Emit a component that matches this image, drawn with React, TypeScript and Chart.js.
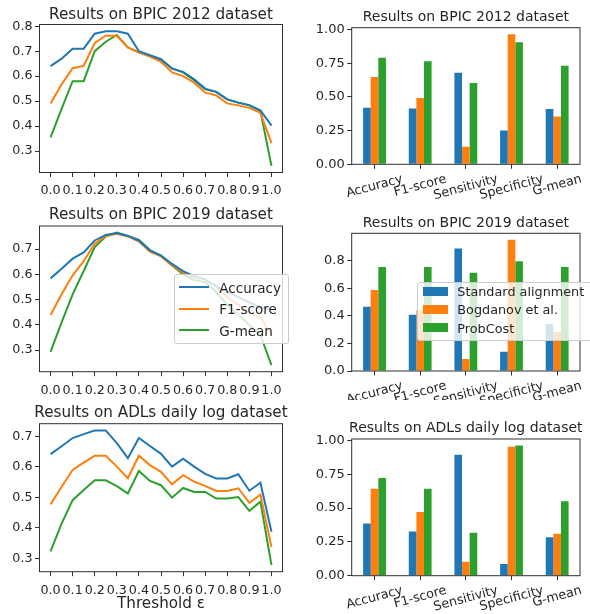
import React, { useEffect, useRef } from "react";
import { Chart, registerables } from "chart.js";

Chart.register(...registerables);

const FONT_FAMILY = '"DejaVu Sans", "Liberation Sans", Arial, sans-serif';
const TEXT_COLOR = "#262626";
const SPINE_COLOR = "#303030";
const TICK_SIZE = 12.7;
const ROT_LABEL_SIZE = 12.7;
const TITLE_SIZE_LEFT = 15.2;
const TITLE_SIZE_RIGHT = 14.0;
const COLORS = ["#1f77b4", "#ff7f0e", "#2ca02c"];

// ---------- line charts (threshold sweep) ----------
const thresholds = [0.0, 0.05, 0.1, 0.15, 0.2, 0.25, 0.3, 0.35, 0.4, 0.45, 0.5, 0.55, 0.6, 0.65, 0.7, 0.75, 0.8, 0.85, 0.9, 0.95, 1.0];
const thresholdTicks = [0.0, 0.1, 0.2, 0.3, 0.4, 0.5, 0.6, 0.7, 0.8, 0.9, 1.0];
const lineSeriesLabels = ["Accuracy", "F1-score", "G-mean"];
const thresholdAxisTitle = "Threshold ε";

const bpic2012Accuracy = [0.64, 0.67, 0.71, 0.71, 0.77, 0.78, 0.78, 0.77, 0.7, 0.684, 0.668, 0.63, 0.617, 0.587, 0.55, 0.537, 0.507, 0.494, 0.484, 0.463, 0.402];
const bpic2012F1 = [0.49, 0.567, 0.632, 0.641, 0.733, 0.762, 0.762, 0.715, 0.695, 0.678, 0.658, 0.615, 0.6, 0.574, 0.534, 0.523, 0.491, 0.483, 0.473, 0.453, 0.332];
const bpic2012GMean = [0.355, 0.469, 0.58, 0.58, 0.7, 0.738, 0.765, 0.715, 0.695, 0.682, 0.666, 0.631, 0.615, 0.584, 0.547, 0.537, 0.507, 0.494, 0.483, 0.46, 0.241];

const bpic2019Accuracy = [0.584, 0.622, 0.662, 0.687, 0.734, 0.756, 0.763, 0.752, 0.734, 0.695, 0.674, 0.641, 0.613, 0.593, 0.58, 0.553, 0.53, 0.51, 0.489, 0.47, 0.46];
const bpic2019F1 = [0.439, 0.521, 0.596, 0.652, 0.721, 0.752, 0.76, 0.75, 0.73, 0.69, 0.671, 0.635, 0.606, 0.587, 0.58, 0.55, 0.51, 0.48, 0.445, 0.43, 0.36];
const bpic2019GMean = [0.293, 0.41, 0.521, 0.613, 0.708, 0.75, 0.765, 0.752, 0.736, 0.695, 0.674, 0.635, 0.6, 0.577, 0.57, 0.53, 0.48, 0.44, 0.4, 0.36, 0.241];

const adlAccuracy = [0.642, 0.668, 0.695, 0.708, 0.72, 0.72, 0.678, 0.629, 0.695, 0.669, 0.643, 0.601, 0.627, 0.601, 0.577, 0.562, 0.562, 0.576, 0.522, 0.548, 0.387];
const adlF1 = [0.477, 0.535, 0.59, 0.614, 0.637, 0.637, 0.601, 0.563, 0.637, 0.606, 0.584, 0.543, 0.573, 0.552, 0.538, 0.521, 0.521, 0.53, 0.482, 0.509, 0.337];
const adlGMean = [0.323, 0.414, 0.491, 0.524, 0.556, 0.556, 0.537, 0.513, 0.587, 0.554, 0.54, 0.499, 0.531, 0.518, 0.518, 0.496, 0.496, 0.501, 0.456, 0.486, 0.278];

const lineYTicks2012 = [0.3, 0.4, 0.5, 0.6, 0.7, 0.8];
const lineYTicks2019 = [0.3, 0.4, 0.5, 0.6, 0.7];
const lineYTicksAdl = [0.3, 0.4, 0.5, 0.6, 0.7];

// ---------- bar charts (method comparison) ----------
const metricCategories = ["Accuracy", "F1-score", "Sensitivity", "Specificity", "G-mean"];
const barSeriesLabels = ["Standard alignment", "Bogdanov et al.", "ProbCost"];

const bpic2012Standard = [0.42, 0.414, 0.68, 0.251, 0.41];
const bpic2012Bogdanov = [0.648, 0.493, 0.13, 0.966, 0.355];
const bpic2012ProbCost = [0.791, 0.766, 0.603, 0.906, 0.731];

const bpic2019Standard = [0.465, 0.407, 0.887, 0.14, 0.34];
const bpic2019Bogdanov = [0.586, 0.44, 0.087, 0.95, 0.282];
const bpic2019ProbCost = [0.754, 0.754, 0.711, 0.795, 0.754];

const adlStandard = [0.386, 0.327, 0.894, 0.086, 0.285];
const adlBogdanov = [0.644, 0.472, 0.103, 0.953, 0.31];
const adlProbCost = [0.722, 0.644, 0.317, 0.963, 0.55];

const barYTicksQuarter = [0, 0.25, 0.5, 0.75, 1.0];
const barYTicks2019 = [0, 0.2, 0.4, 0.6, 0.8];

const title2012 = "Results on BPIC 2012 dataset";
const title2019 = "Results on BPIC 2019 dataset";
const titleAdl = "Results on ADLs daily log dataset";

// ---------- plugins ----------
const framePlugin = {
  id: "frame",
  afterDraw(chart: any) {
    const { ctx, chartArea } = chart;
    ctx.save();
    ctx.strokeStyle = SPINE_COLOR;
    ctx.lineWidth = 1;
    ctx.strokeRect(chartArea.left, chartArea.top, chartArea.right - chartArea.left, chartArea.bottom - chartArea.top);
    ctx.restore();
  },
};

const rotatedLabelPlugin = {
  id: "rotatedLabels",
  afterDraw(chart: any) {
    const scale = chart.scales.x;
    const { ctx, chartArea } = chart;
    const angle = (15 * Math.PI) / 180;
    ctx.save();
    ctx.font = `${ROT_LABEL_SIZE}px ${FONT_FAMILY}`;
    ctx.fillStyle = TEXT_COLOR;
    ctx.textAlign = "center";
    ctx.textBaseline = "middle";
    (chart.data.labels as string[]).forEach((label, i) => {
      const x = scale.getPixelForTick(i);
      const w = ctx.measureText(label).width;
      const h = ROT_LABEL_SIZE * 1.164;
      const boxH = w * Math.sin(angle) + h * Math.cos(angle);
      const y = chartArea.bottom + 7.5 + boxH / 2;
      ctx.save();
      ctx.translate(x, y);
      ctx.rotate(-angle);
      ctx.fillText(label, 0, 0);
      ctx.restore();
    });
    ctx.restore();
  },
};

const tickFont = { family: FONT_FAMILY, size: TICK_SIZE };
const gridStyle = { drawOnChartArea: false, drawTicks: true, tickLength: 4.5, color: SPINE_COLOR, lineWidth: 1 };

function lineConfig(p: {
  acc: number[];
  f1: number[];
  gm: number[];
  yTicks: number[];
  areaTop: number;
  xHeight: number;
  showXTitle: boolean;
}) {
  const all = [...p.acc, ...p.f1, ...p.gm];
  const lo = Math.min(...all);
  const hi = Math.max(...all);
  const m = (hi - lo) * 0.05;
  const series = [p.acc, p.f1, p.gm];
  return {
    type: "line",
    data: {
      datasets: series.map((vals, k) => ({
        label: lineSeriesLabels[k],
        data: thresholds.map((t, i) => ({ x: t, y: vals[i] })),
        borderColor: COLORS[k],
        backgroundColor: COLORS[k],
        borderWidth: 2,
        pointRadius: 0,
        pointHoverRadius: 0,
        tension: 0,
        fill: false,
      })),
    },
    options: {
      responsive: true,
      maintainAspectRatio: false,
      animation: false,
      events: [],
      layout: { padding: { left: 0, top: p.areaTop, right: 12.5, bottom: 0 } },
      plugins: { legend: { display: false }, tooltip: { enabled: false }, title: { display: false } },
      scales: {
        x: {
          type: "linear",
          min: -0.05,
          max: 1.05,
          afterBuildTicks: (s: any) => {
            s.ticks = thresholdTicks.map((v) => ({ value: v }));
          },
          afterFit: (s: any) => {
            s.height = p.xHeight;
          },
          ticks: {
            autoSkip: false,
            maxRotation: 0,
            minRotation: 0,
            padding: 6.5,
            color: TEXT_COLOR,
            font: tickFont,
            callback: (v: any) => Number(v).toFixed(1),
          },
          grid: gridStyle,
          border: { display: false },
          title: {
            display: p.showXTitle,
            text: thresholdAxisTitle,
            color: TEXT_COLOR,
            font: { family: FONT_FAMILY, size: TITLE_SIZE_LEFT },
            padding: { top: 0, bottom: 0.5 },
          },
        },
        y: {
          type: "linear",
          min: lo - m,
          max: hi + m,
          afterBuildTicks: (s: any) => {
            s.ticks = p.yTicks.map((v) => ({ value: v }));
          },
          afterFit: (s: any) => {
            s.width = 39.5;
          },
          ticks: {
            padding: 2.5,
            color: TEXT_COLOR,
            font: tickFont,
            callback: (v: any) => Number(v).toFixed(1),
          },
          grid: gridStyle,
          border: { display: false },
        },
      },
    },
    plugins: [framePlugin],
  };
}

function barConfig(p: {
  std: number[];
  bog: number[];
  prob: number[];
  yTicks: number[];
  decimals: number;
  areaTop: number;
  xHeight: number;
}) {
  const hi = Math.max(...p.std, ...p.bog, ...p.prob) * 1.05;
  const series = [p.std, p.bog, p.prob];
  return {
    type: "bar",
    data: {
      labels: metricCategories,
      datasets: series.map((vals, k) => ({
        label: barSeriesLabels[k],
        data: vals,
        backgroundColor: COLORS[k],
        borderWidth: 0,
        categoryPercentage: 0.5,
        barPercentage: 1.0,
      })),
    },
    options: {
      responsive: true,
      maintainAspectRatio: false,
      animation: false,
      events: [],
      layout: { padding: { left: 0, top: p.areaTop, right: 10, bottom: 0 } },
      plugins: { legend: { display: false }, tooltip: { enabled: false }, title: { display: false } },
      scales: {
        x: {
          type: "category",
          offset: true,
          afterFit: (s: any) => {
            s.height = p.xHeight;
          },
          ticks: { display: false },
          grid: { ...gridStyle, offset: false },
          border: { display: false },
        },
        y: {
          type: "linear",
          min: 0,
          max: hi,
          afterBuildTicks: (s: any) => {
            s.ticks = p.yTicks.map((v) => ({ value: v }));
          },
          afterFit: (s: any) => {
            s.width = 56.7;
          },
          ticks: {
            padding: 2.5,
            color: TEXT_COLOR,
            font: { family: FONT_FAMILY, size: 13 },
            callback: (v: any) => Number(v).toFixed(p.decimals),
          },
          grid: gridStyle,
          border: { display: false },
        },
      },
    },
    plugins: [framePlugin, rotatedLabelPlugin],
  };
}

function ChartPanel(props: { left: number; top: number; width: number; height: number; make: () => any }) {
  const ref = useRef<HTMLCanvasElement | null>(null);
  useEffect(() => {
    if (!ref.current) return;
    const chart = new Chart(ref.current, props.make());
    return () => chart.destroy();
  }, []);
  return (
    <div style={{ position: "absolute", left: props.left, top: props.top, width: props.width, height: props.height }}>
      <canvas ref={ref} />
    </div>
  );
}

function PanelTitle(props: { text: string; centerX: number; capsCenterY: number; size: number }) {
  const lh = props.size * 1.2;
  const capsOffset = (lh - props.size * 1.164) / 2 + props.size * (0.928 - 0.3645);
  return (
    <div
      style={{
        position: "absolute",
        left: props.centerX - 200,
        top: props.capsCenterY - capsOffset,
        width: 400,
        textAlign: "center",
        fontSize: props.size,
        lineHeight: `${lh}px`,
        color: TEXT_COLOR,
        whiteSpace: "nowrap",
      }}
    >
      {props.text}
    </div>
  );
}

function LineLegend() {
  return (
    <div
      style={{
        position: "absolute",
        left: 174.3,
        top: 274.3,
        width: 115,
        height: 70,
        boxSizing: "border-box",
        border: "1px solid #cccccc",
        borderRadius: 3,
        background: "rgba(255,255,255,0.8)",
      }}
    >
      {lineSeriesLabels.map((label, k) => {
        const cy = 12.2 + k * 21.5;
        return (
          <React.Fragment key={label}>
            <div style={{ position: "absolute", left: 4, top: cy - 1, width: 30, height: 2, background: COLORS[k] }} />
            <div
              style={{
                position: "absolute",
                left: 44,
                top: cy - 7.76,
                fontSize: 13.5,
                lineHeight: "16px",
                color: TEXT_COLOR,
                whiteSpace: "nowrap",
              }}
            >
              {label}
            </div>
          </React.Fragment>
        );
      })}
    </div>
  );
}

function BarLegend() {
  return (
    <div
      style={{
        position: "absolute",
        left: 416.7,
        top: 281.7,
        width: 200,
        height: 59,
        boxSizing: "border-box",
        border: "1px solid #cccccc",
        borderRadius: 3,
        background: "rgba(255,255,255,0.8)",
      }}
    >
      {barSeriesLabels.map((label, k) => {
        const cy = 8.6 + k * 18.3;
        return (
          <React.Fragment key={label}>
            <div style={{ position: "absolute", left: 5, top: cy - 4.5, width: 25.6, height: 9, background: COLORS[k] }} />
            <div
              style={{
                position: "absolute",
                left: 39.6,
                top: cy - 7.26,
                fontSize: 12.8,
                lineHeight: "15px",
                color: TEXT_COLOR,
                whiteSpace: "nowrap",
              }}
            >
              {label}
            </div>
          </React.Fragment>
        );
      })}
    </div>
  );
}

export default function App() {
  const leftCenter = 161;
  const rightCenter = 465.85;
  return (
    <div
      style={{
        position: "absolute",
        left: 0,
        top: 0,
        width: 590,
        height: 614,
        overflow: "hidden",
        background: "#ffffff",
        fontFamily: FONT_FAMILY,
      }}
    >
      <ChartPanel
        left={0}
        top={0}
        width={295}
        height={200}
        make={() => lineConfig({ acc: bpic2012Accuracy, f1: bpic2012F1, gm: bpic2012GMean, yTicks: lineYTicks2012, areaTop: 24.5, xHeight: 27.5, showXTitle: false })}
      />
      <ChartPanel
        left={0}
        top={200}
        width={295}
        height={200}
        make={() => lineConfig({ acc: bpic2019Accuracy, f1: bpic2019F1, gm: bpic2019GMean, yTicks: lineYTicks2019, areaTop: 26, xHeight: 28.3, showXTitle: false })}
      />
      <ChartPanel
        left={0}
        top={400}
        width={295}
        height={214}
        make={() => lineConfig({ acc: adlAccuracy, f1: adlF1, gm: adlGMean, yTicks: lineYTicksAdl, areaTop: 23.7, xHeight: 42.3, showXTitle: true })}
      />
      <ChartPanel
        left={295}
        top={0}
        width={295}
        height={200}
        make={() => barConfig({ std: bpic2012Standard, bog: bpic2012Bogdanov, prob: bpic2012ProbCost, yTicks: barYTicksQuarter, decimals: 2, areaTop: 27.7, xHeight: 35.7 })}
      />
      <ChartPanel
        left={295}
        top={200}
        width={295}
        height={200}
        make={() => barConfig({ std: bpic2019Standard, bog: bpic2019Bogdanov, prob: bpic2019ProbCost, yTicks: barYTicks2019, decimals: 1, areaTop: 33.3, xHeight: 29 })}
      />
      <ChartPanel
        left={295}
        top={400}
        width={295}
        height={214}
        make={() => barConfig({ std: adlStandard, bog: adlBogdanov, prob: adlProbCost, yTicks: barYTicksQuarter, decimals: 2, areaTop: 39, xHeight: 38.3 })}
      />

      <PanelTitle text={title2012} centerX={leftCenter} capsCenterY={14} size={TITLE_SIZE_LEFT} />
      <PanelTitle text={title2019} centerX={leftCenter} capsCenterY={214} size={TITLE_SIZE_LEFT} />
      <PanelTitle text={titleAdl} centerX={leftCenter} capsCenterY={411.7} size={TITLE_SIZE_LEFT} />
      <PanelTitle text={title2012} centerX={rightCenter} capsCenterY={15.85} size={TITLE_SIZE_RIGHT} />
      <PanelTitle text={title2019} centerX={rightCenter} capsCenterY={221.7} size={TITLE_SIZE_RIGHT} />
      <PanelTitle text={titleAdl} centerX={rightCenter} capsCenterY={427.5} size={TITLE_SIZE_RIGHT} />

      <LineLegend />
      <BarLegend />
    </div>
  );
}
